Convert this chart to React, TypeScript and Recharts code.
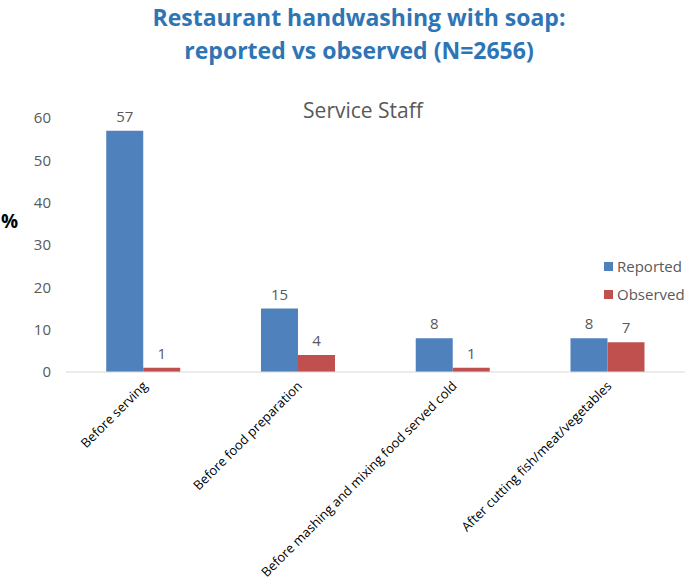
import React from "react";
import { BarChart, Bar, XAxis, YAxis, LabelList } from "recharts";

const categories = [
  "Before serving",
  "Before food preparation",
  "Before mashing and mixing food served cold",
  "After cutting fish/meat/vegetables",
];
const reported = [57, 15, 8, 8];
const observed = [1, 4, 1, 7];
const yTicks = [0, 10, 20, 30, 40, 50, 60];

const data = categories.map((name, i) => ({
  name,
  Reported: reported[i],
  Observed: observed[i],
}));

const FONT = "'Open Sans', sans-serif";
const BLUE = "#4F81BD";
const RED = "#C0504D";
const GRAY = "#595959";

const series = [
  { key: "Reported", color: BLUE },
  { key: "Observed", color: RED },
];

const AngledTick = (props: any) => {
  const { x, y, payload } = props;
  return (
    <g transform={`translate(${x + 2},${y + 4})`}>
      <text
        x={0}
        y={0}
        dy={4}
        textAnchor="end"
        transform="rotate(-45)"
        fontSize={13}
        fontFamily={FONT}
        fill="#000"
      >
        {payload.value}
      </text>
    </g>
  );
};

const App = () => {
  return (
    <div style={{ position: "absolute", left: 0, top: 0, width: 685, height: 587, background: "#fff" }}>
      <BarChart
        width={685}
        height={587}
        data={data}
        margin={{ top: 118, right: 0, left: 0, bottom: 0 }}
        barCategoryGap="26%"
        barGap={0}
        style={{ position: "absolute", left: 0, top: 0 }}
      >
        <XAxis
          dataKey="name"
          height={215}
          interval={0}
          tick={<AngledTick />}
          tickLine={false}
          axisLine={{ stroke: "#D9D9D9" }}
        />
        <YAxis
          width={66}
          domain={[0, 60]}
          ticks={yTicks}
          axisLine={false}
          tickLine={false}
          tickSize={0}
          tickMargin={15}
          tick={{ fontSize: 15, fontFamily: FONT, fill: GRAY }}
        />
        {series.map((s) => (
          <Bar key={s.key} dataKey={s.key} fill={s.color} isAnimationActive={false}>
            <LabelList dataKey={s.key} position="top" offset={9} fill={GRAY} fontSize={15} fontFamily={FONT} />
          </Bar>
        ))}
      </BarChart>
      <div
        style={{
          position: "absolute",
          left: 0,
          top: 1,
          width: 718,
          textAlign: "center",
          fontFamily: FONT,
          fontWeight: 700,
          fontSize: 23,
          lineHeight: "33px",
          color: "#2E75B6",
        }}
      >
        Restaurant handwashing with soap:
        <br />
        reported vs observed (N=2656)
      </div>
      <div
        style={{
          position: "absolute",
          left: 0,
          top: 95,
          width: 726,
          textAlign: "center",
          fontFamily: FONT,
          fontSize: 21,
          lineHeight: "30px",
          color: GRAY,
        }}
      >
        Service Staff
      </div>
      <div
        style={{
          position: "absolute",
          left: 1,
          top: 208,
          fontFamily: FONT,
          fontWeight: 700,
          fontSize: 19,
          lineHeight: "26px",
          color: "#000",
        }}
      >
        %
      </div>
      <div
        style={{
          position: "absolute",
          left: 604,
          top: 252,
          fontFamily: FONT,
          fontSize: 15,
          color: GRAY,
        }}
      >
        {series.map((s) => (
          <div key={s.key} style={{ display: "flex", alignItems: "center", height: 28 }}>
            <span style={{ display: "inline-block", width: 9, height: 9, background: s.color, marginRight: 4 }} />
            {s.key}
          </div>
        ))}
      </div>
    </div>
  );
};

export default App;
